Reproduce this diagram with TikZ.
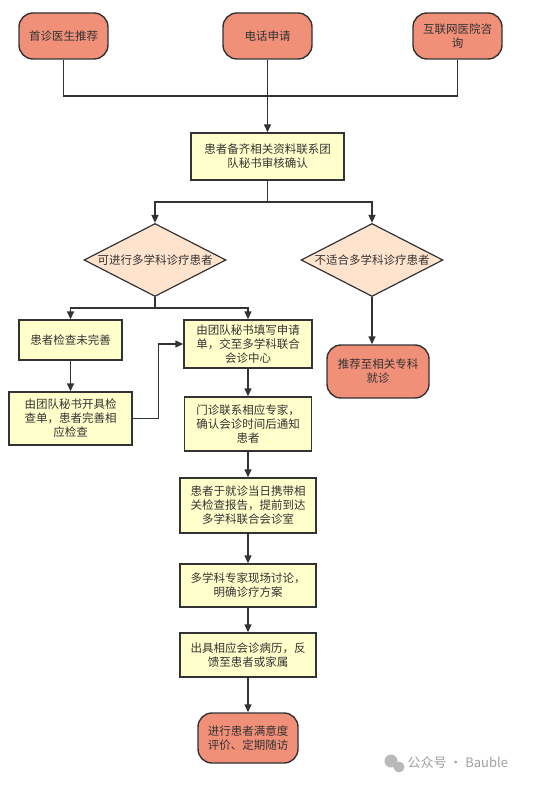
\documentclass[tikz,border=0pt]{standalone}
\usepackage{fontspec}
\newfontfamily\cjk{Noto Sans CJK SC}
\usetikzlibrary{shapes.geometric,arrows.meta}
\definecolor{salmon}{HTML}{F19079}
\definecolor{peach}{HTML}{FFE3CC}
\definecolor{paleyellow}{HTML}{FFFFCC}
\definecolor{ink}{HTML}{333333}
\begin{document}
\begin{tikzpicture}[
  x=1pt, y=-1pt,
  term/.style={rectangle, rounded corners=14pt, draw=ink, line width=1.4pt, fill=salmon, minimum width=89pt, minimum height=46pt, align=center},
  box/.style={rectangle, draw=ink, line width=1.4pt, fill=paleyellow, align=center},
  choice/.style={diamond, draw=ink, line width=1.2pt, fill=peach, aspect=1.95, inner sep=0pt, minimum width=142pt, minimum height=73pt},
  line/.style={draw=ink, line width=1.4pt},
  arrow/.style={line, -{Triangle[length=8pt,width=7pt]}},
  font=\cjk\fontsize{11.5}{14}\selectfont, text=ink
]
\useasboundingbox (0,0) rectangle (559,786);

\node[term] (phone) at (267.5,36) {电话申请};
\node[term, left of=phone, node distance=204pt] (doctor) {首诊医生推荐};
\node[term, right of=phone, node distance=190pt] (web) {互联网医院咨\\询};
\coordinate[below of=phone, node distance=60pt] (merge);
\node[box, below of=phone, node distance=120.5pt, minimum width=153pt, minimum height=47pt] (prepare) {患者备齐相关资料联系团\\队秘书审核确认};
\coordinate[below of=prepare, node distance=45.5pt] (split);
\node[choice, below of=prepare, node distance=103.5pt, xshift=-112.5pt] (fit) {可进行多学科诊疗患者};
\node[choice, right of=fit, node distance=217pt] (unfit) {不适合多学科诊疗患者};
\coordinate[below of=fit, node distance=48pt] (fork);
\node[box, below of=fit, node distance=80pt, xshift=-84.5pt, minimum width=103pt, minimum height=40pt] (incomplete) {患者检查未完善};
\node[box, below of=fit, node distance=84pt, xshift=93pt, minimum width=128pt, minimum height=48pt] (apply) {由团队秘书填写申请\\单，交至多学科联合\\会诊中心};
\node[box, below of=incomplete, node distance=78.5pt, minimum width=123pt, minimum height=53pt] (order) {由团队秘书开具检\\查单，患者完善相\\应检查};
\node[term, below of=unfit, node distance=111.5pt, xshift=6pt, minimum width=102pt, minimum height=53pt] (refer) {推荐至相关专科\\就诊};
\node[box, below of=apply, node distance=80pt, minimum width=127pt, minimum height=54pt] (contact) {门诊联系相应专家，\\确认会诊时间后通知\\患者};
\node[box, below of=contact, node distance=81.5pt, minimum width=136pt, minimum height=55pt] (bring) {患者于就诊当日携带相\\关检查报告，提前到达\\多学科联合会诊室};
\node[box, below of=bring, node distance=80pt, minimum width=136pt, minimum height=43pt] (discuss) {多学科专家现场讨论，\\明确诊疗方案};
\node[box, below of=discuss, node distance=69.5pt, minimum width=136pt, minimum height=44pt] (report) {出具相应会诊病历，反\\馈至患者或家属};
\node[term, below of=report, node distance=83pt, minimum width=100pt, minimum height=50pt] (follow) {进行患者满意度\\评价、定期随访};

% watermark
\fill[gray!55] (391,761) circle (6.5) (399,767) circle (5.5);
\node[anchor=west, text=gray!75, font=\cjk\fontsize{13}{15}\selectfont] (mark) at (404,763) {公众号 · Bauble};

\draw[line] (doctor) |- (merge) -| (web);
\draw[arrow] (phone) -- (prepare);
\draw[arrow] (prepare) -- (split) -| (fit);
\draw[arrow] (split) -| (unfit);
\draw[arrow] (fit) -- (fork) -| (incomplete);
\draw[arrow] (fork) -| (apply);
\draw[arrow] (incomplete) -- (order);
\draw[arrow] (order.east) -- ++(26,0) |- (apply.west);
\draw[arrow] (unfit) -- (unfit |- refer.north);
\draw[arrow] (apply) -- (contact);
\draw[arrow] (contact) -- (bring);
\draw[arrow] (bring) -- (discuss);
\draw[arrow] (discuss) -- (report);
\draw[arrow] (report) -- (follow);
\end{tikzpicture}
\end{document}
